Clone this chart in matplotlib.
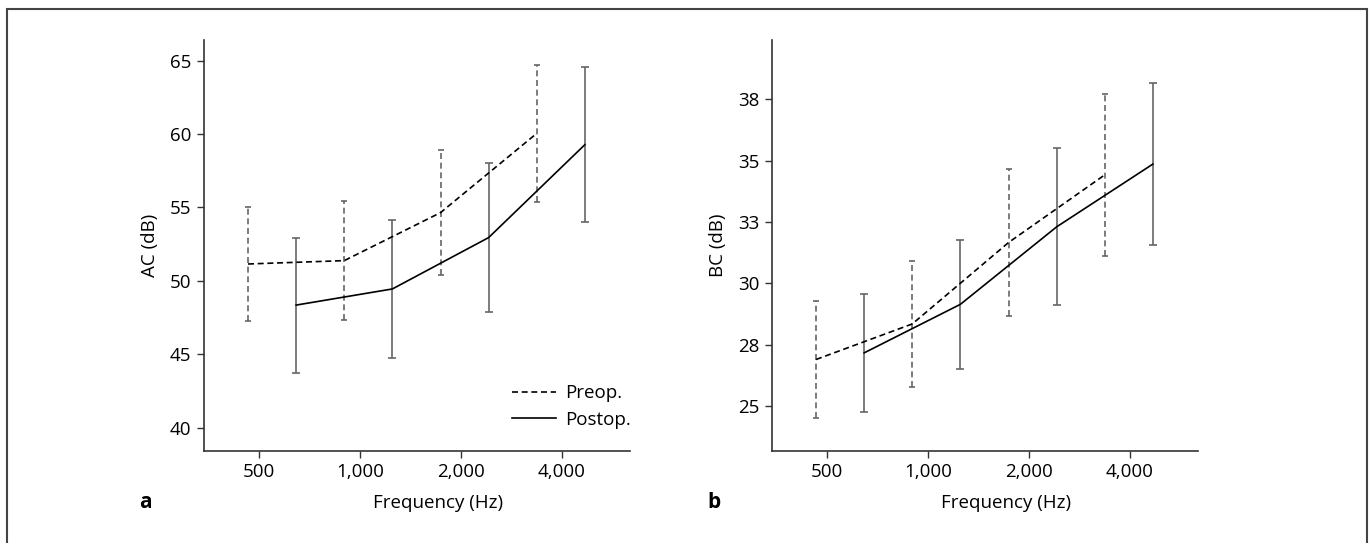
import numpy as np
import matplotlib
matplotlib.use("Agg")
import matplotlib.pyplot as plt
from matplotlib.patches import Rectangle

plt.rcParams['font.family'] = ['Open Sans', 'DejaVu Sans']

# Hearing thresholds, mean and SD per frequency
freq_labels = ['500', '1,000', '2,000', '4,000']

ac_pre_mean = [51.15, 51.38, 54.65, 60.05]
ac_pre_sd = [3.9, 4.05, 4.27, 4.68]
ac_post_mean = [48.35, 49.45, 52.95, 59.28]
ac_post_sd = [4.6, 4.7, 5.1, 5.28]

bc_pre_mean = [26.89, 28.34, 31.66, 34.42]
bc_pre_sd = [2.38, 2.57, 3.0, 3.3]
bc_post_mean = [27.16, 29.14, 32.3, 34.86]
bc_post_sd = [2.42, 2.62, 3.2, 3.3]

ac_ticks = [40, 45, 50, 55, 60, 65]
bc_ticks = [25, 27.5, 30, 32.5, 35, 37.5]
bc_tick_labels = ['25', '28', '30', '33', '35', '38']

W, H = 1371, 543
fs = 13.5
fig = plt.figure(figsize=(W / 100, H / 100), dpi=100)

# pre/post slots interleave along the axis
start, step = -0.109, 0.4765
n = len(freq_labels)
x_pre = start + step * 2 * np.arange(n)
x_post = start + step * (2 * np.arange(n) + 1)

ebar_color = '#666666'
spine_color = '#333333'
dash = (0, (3.6, 2.2))


def panel(ax, pre_m, pre_sd, post_m, post_sd, ylim, yticks, ylabels, ylabel):
    eb = ax.errorbar(x_pre, pre_m, yerr=pre_sd, fmt='none', ecolor=ebar_color,
                     elinewidth=1.2, capsize=2.4, capthick=1.2)
    eb[2][0].set_linestyle(dash)
    ax.errorbar(x_post, post_m, yerr=post_sd, fmt='none', ecolor=ebar_color,
                elinewidth=1.2, capsize=3.0, capthick=1.2)
    ax.plot(x_pre, pre_m, color='black', lw=1.2, linestyle=dash, label='Preop.')
    ax.plot(x_post, post_m, color='black', lw=1.2, label='Postop.')

    ax.set_xlim(-0.545, 3.673)
    ax.set_xticks(range(n))
    ax.set_xticklabels(freq_labels)
    ax.set_ylim(*ylim)
    ax.set_yticks(yticks)
    ax.set_yticklabels(ylabels)
    ax.set_xlabel('Frequency (Hz)', fontsize=fs)
    ax.xaxis.set_label_coords(0.549, -0.105)
    ax.set_ylabel(ylabel, fontsize=fs, labelpad=8)
    for s in ['top', 'right']:
        ax.spines[s].set_visible(False)
    for s in ['left', 'bottom']:
        ax.spines[s].set_color(spine_color)
        ax.spines[s].set_linewidth(1.2)
    ax.tick_params(axis='both', direction='out', length=5, width=1.0,
                   color=spine_color, labelsize=fs, pad=4)


ax1 = fig.add_axes([204 / W, 1 - 450.7 / H, 426 / W, 410.7 / H])
panel(ax1, ac_pre_mean, ac_pre_sd, ac_post_mean, ac_post_sd,
      (38.43, 66.41), ac_ticks, [str(t) for t in ac_ticks], 'AC (dB)')
ax1.legend(loc='lower right', bbox_to_anchor=(1.019, 0.035), frameon=False,
           fontsize=fs, handlelength=2.35, handletextpad=0.45,
           labelspacing=0.45, borderaxespad=0)

ax2 = fig.add_axes([772 / W, 1 - 450.7 / H, 426 / W, 410.7 / H])
panel(ax2, bc_pre_mean, bc_pre_sd, bc_post_mean, bc_post_sd,
      (23.17, 39.92), bc_ticks, bc_tick_labels, 'BC (dB)')

# panel letters
fig.text(139 / W, 1 - 508 / H, 'a', fontsize=15, fontweight='bold', ha='left', va='baseline')
fig.text(707 / W, 1 - 508 / H, 'b', fontsize=15, fontweight='bold', ha='left', va='baseline')

# outer frame
fig.add_artist(Rectangle((6.5 / W, -0.02), 1360 / W, (H - 9) / H + 0.02,
                         transform=fig.transFigure, fill=False,
                         edgecolor='#444444', lw=1.5))

fig.savefig('out.png', dpi=100)
